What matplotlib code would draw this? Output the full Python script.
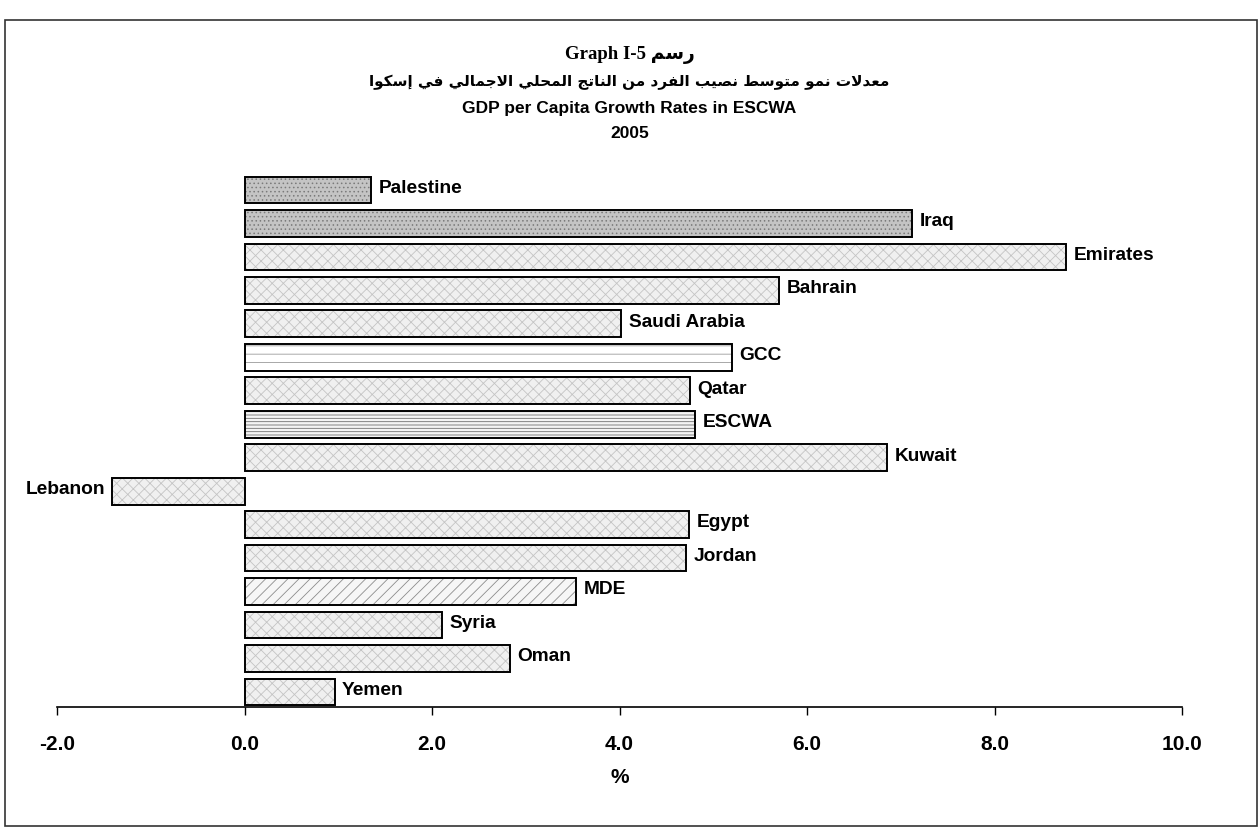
import numpy as np
import matplotlib
matplotlib.use("Agg")
import matplotlib.pyplot as plt
from matplotlib.patches import Rectangle

# data (top to bottom)
countries = ["Palestine", "Iraq", "Emirates", "Bahrain", "Saudi Arabia", "GCC",
             "Qatar", "ESCWA", "Kuwait", "Lebanon", "Egypt", "Jordan", "MDE",
             "Syria", "Oman", "Yemen"]
growth = [1.35, 7.12, 8.76, 5.70, 4.02, 5.20, 4.75, 4.81, 6.85, -1.41,
          4.74, 4.71, 3.54, 2.11, 2.83, 0.96]
xticks = [-2.0, 0.0, 2.0, 4.0, 6.0, 8.0, 10.0]

title_en = "Graph I-5"
title_ar_tag = "رسم"
title_ar = "معدلات نمو متوسط نصيب الفرد من الناتج المحلي الاجمالي في إسكوا"
title_main = "GDP per Capita Growth Rates in ESCWA"
title_year = "2005"

# fill style per bar: (facecolor, hatch, hatch colour)
styles = {
    "dark": ("#c4c4c4", "....", "#7a7a7a"),
    "light": ("#f0f0f0", "xxx", "#c4c4c4"),
    "gcc": ("#ffffff", "--", "#9a9a9a"),
    "escwa": ("#f4f4f4", "-----", "#707070"),
    "mde": ("#f6f6f6", "///", "#8c8c8c"),
}
bar_style = ["dark", "dark", "light", "light", "light", "gcc", "light", "escwa",
             "light", "light", "light", "light", "mde", "light", "light", "light"]

# minimal Arabic shaping (matplotlib has no bidi / joining support)
FORMS = {
    "ا": ("\uFE8D", "\uFE8E", None, None),
    "إ": ("\uFE87", "\uFE88", None, None),
    "ب": ("\uFE8F", "\uFE90", "\uFE91", "\uFE92"),
    "ت": ("\uFE95", "\uFE96", "\uFE97", "\uFE98"),
    "ج": ("\uFE9D", "\uFE9E", "\uFE9F", "\uFEA0"),
    "ح": ("\uFEA1", "\uFEA2", "\uFEA3", "\uFEA4"),
    "د": ("\uFEA9", "\uFEAA", None, None),
    "ر": ("\uFEAD", "\uFEAE", None, None),
    "س": ("\uFEB1", "\uFEB2", "\uFEB3", "\uFEB4"),
    "ص": ("\uFEB9", "\uFEBA", "\uFEBB", "\uFEBC"),
    "ط": ("\uFEC1", "\uFEC2", "\uFEC3", "\uFEC4"),
    "ع": ("\uFEC9", "\uFECA", "\uFECB", "\uFECC"),
    "ف": ("\uFED1", "\uFED2", "\uFED3", "\uFED4"),
    "ك": ("\uFED9", "\uFEDA", "\uFEDB", "\uFEDC"),
    "ل": ("\uFEDD", "\uFEDE", "\uFEDF", "\uFEE0"),
    "م": ("\uFEE1", "\uFEE2", "\uFEE3", "\uFEE4"),
    "ن": ("\uFEE5", "\uFEE6", "\uFEE7", "\uFEE8"),
    "ه": ("\uFEE9", "\uFEEA", "\uFEEB", "\uFEEC"),
    "و": ("\uFEED", "\uFEEE", None, None),
    "ي": ("\uFEF1", "\uFEF2", "\uFEF3", "\uFEF4"),
}
LAM_ALEF = {"ا": ("\uFEFB", "\uFEFC"), "إ": ("\uFEF9", "\uFEFA")}


def shape_arabic(text):
    items = []
    i = 0
    while i < len(text):
        c = text[i]
        if c == "ل" and i + 1 < len(text) and text[i + 1] in LAM_ALEF:
            items.append(("lig", text[i + 1]))
            i += 2
        else:
            items.append(("chr", c))
            i += 1

    def dual(it):
        return it[0] == "chr" and it[1] in FORMS and FORMS[it[1]][2] is not None

    def letter(it):
        return it[0] == "lig" or it[1] in FORMS

    out = []
    for k, it in enumerate(items):
        prev_j = k > 0 and dual(items[k - 1])
        if it[0] == "lig":
            iso, fin = LAM_ALEF[it[1]]
            out.append(fin if prev_j else iso)
            continue
        c = it[1]
        if c not in FORMS:
            out.append(c)
            continue
        iso, fin, ini, med = FORMS[c]
        next_j = (ini is not None and k + 1 < len(items) and letter(items[k + 1]))
        if prev_j and next_j:
            out.append(med)
        elif prev_j:
            out.append(fin)
        elif next_j:
            out.append(ini)
        else:
            out.append(iso)
    return "".join(reversed(out))


plt.rcParams["font.family"] = ["Liberation Sans", "DejaVu Sans"]
plt.rcParams["axes.unicode_minus"] = False
plt.rcParams["hatch.linewidth"] = 0.6

fig = plt.figure(figsize=(12.59, 8.34), dpi=100)
ax = fig.add_axes([0.0453, 0.1523, 0.8936, 0.644])

y = np.arange(len(countries))
faces = [styles[s][0] for s in bar_style]
hcols = [styles[s][2] for s in bar_style]
fills = ax.barh(y, growth, height=0.8, color=faces, edgecolor=hcols, linewidth=0)
for p, s in zip(fills, bar_style):
    p.set_hatch(styles[s][1])
ax.barh(y, growth, height=0.8, fill=False, edgecolor="black", linewidth=1.4)

for yi, v, name in zip(y, growth, countries):
    if v >= 0:
        ax.text(v + 0.08, yi - 0.05, name, ha="left", va="center",
                fontsize=13.8, fontweight="bold")
    else:
        ax.text(v - 0.08, yi - 0.05, name, ha="right", va="center",
                fontsize=13.8, fontweight="bold")

ax.set_xlim(-2.0, 10.0)
ax.set_ylim(15.45, -0.6)
ax.set_xticks(xticks)
ax.set_xticklabels([f"{t:.1f}" for t in xticks], fontsize=15, fontweight="bold")
ax.tick_params(axis="x", direction="out", length=6, width=1, pad=14)
ax.set_yticks([])
for side in ["left", "right", "top"]:
    ax.spines[side].set_visible(False)
ax.spines["bottom"].set_linewidth(1.2)
ax.set_xlabel("%", fontsize=15, fontweight="bold", labelpad=10)

fig.text(0.5, 1 - 55 / 834, title_en + " " + shape_arabic(title_ar_tag),
         ha="center", va="center", fontsize=13.5, fontweight="bold",
         family=["Liberation Serif", "DejaVu Sans"])
fig.text(0.5, 1 - 82 / 834, shape_arabic(title_ar), ha="center", va="center",
         fontsize=11, fontweight="bold", family=["DejaVu Sans"])
fig.text(0.5, 1 - 108 / 834, title_main, ha="center", va="center",
         fontsize=12.5, fontweight="bold")
fig.text(0.5, 1 - 134 / 834, title_year, ha="center", va="center",
         fontsize=12.5, fontweight="bold")

# outer frame of the chart area
fig.patches.append(Rectangle((5 / 1259, 1 - 826 / 834), 1252 / 1259, 806 / 834,
                             transform=fig.transFigure, fill=False,
                             edgecolor="#333333", linewidth=1.2))

fig.savefig("out.png", dpi=100)
